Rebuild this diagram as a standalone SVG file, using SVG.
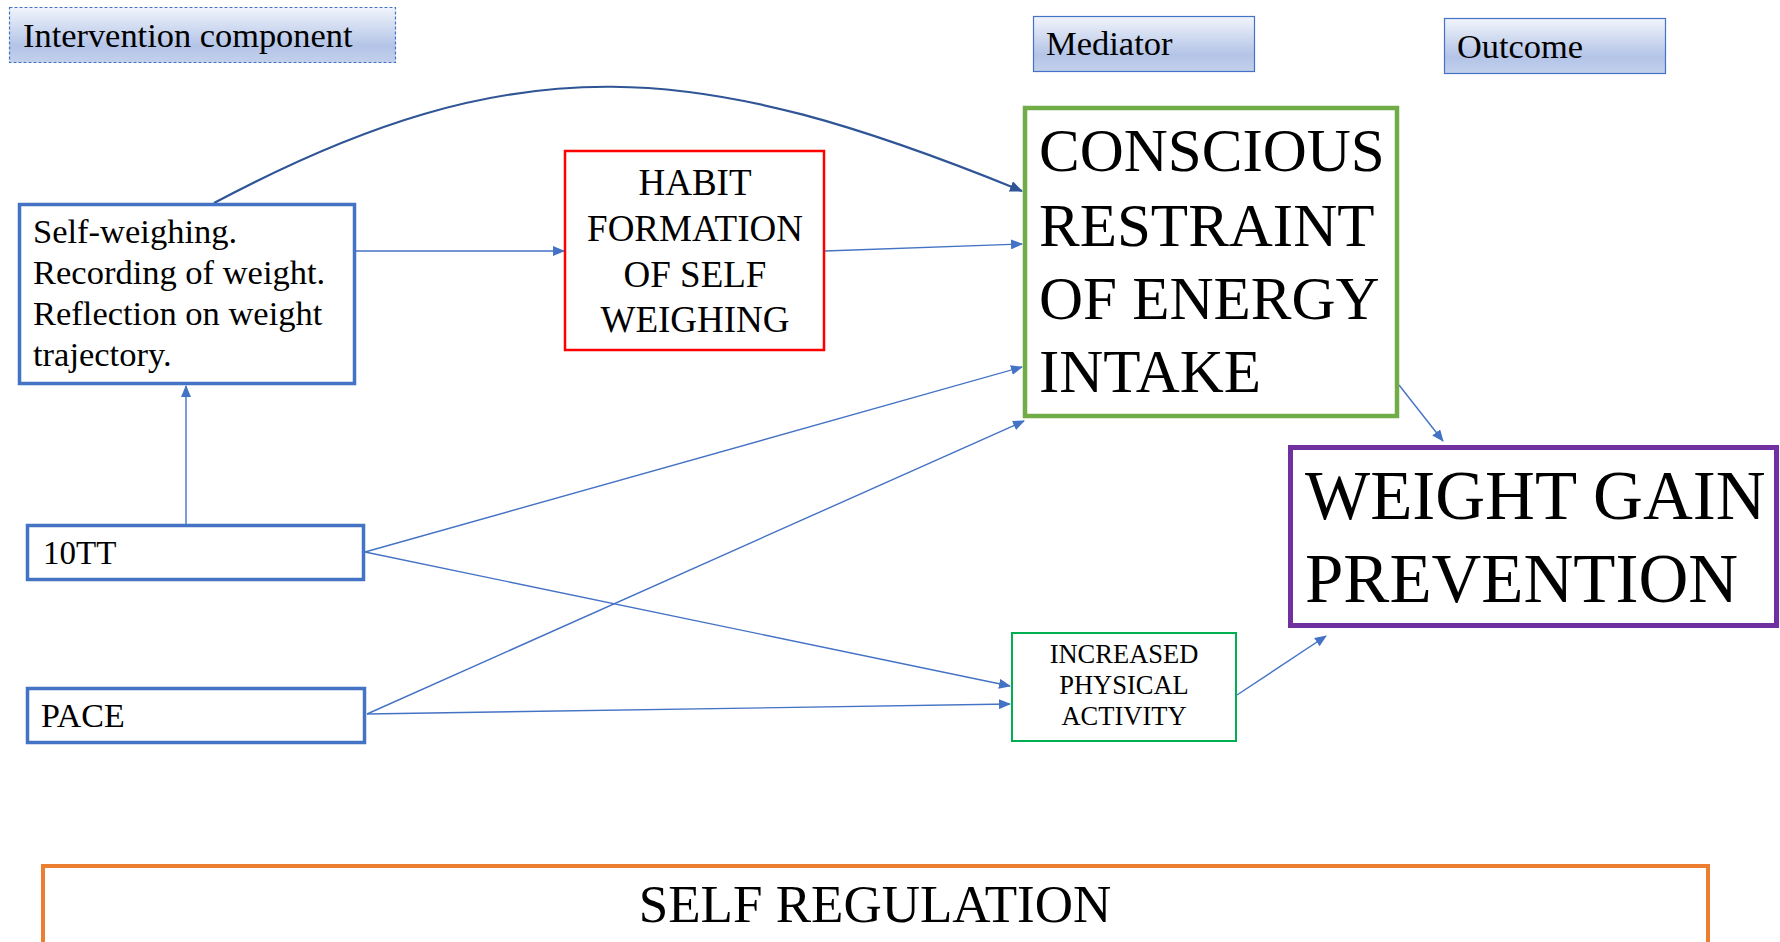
<svg xmlns="http://www.w3.org/2000/svg" width="1780" height="942" viewBox="0 0 1780 942">
<style>
text{font-family:"Liberation Serif","Times New Roman",serif;fill:#000}
.hdr{stroke:#4472C4;stroke-width:1.2;fill:url(#hg)}
.blue{fill:#fff;stroke:#4472C4;stroke-width:3.5}
.con{fill:none;stroke:#4472C4;stroke-width:1.4}
</style>
<defs>
<linearGradient id="hg" x1="0" y1="0" x2="0" y2="1">
<stop offset="0" stop-color="#F1F4FB"/>
<stop offset="0.7" stop-color="#B3C4E7"/>
<stop offset="1" stop-color="#C3D0EC"/>
</linearGradient>
<marker id="ah" markerUnits="userSpaceOnUse" markerWidth="12" markerHeight="10" refX="11" refY="5" orient="auto">
<path d="M0,0 L12,5 L0,10 z" fill="#4472C4"/>
</marker>
<marker id="ahd" markerUnits="userSpaceOnUse" markerWidth="13" markerHeight="11" refX="12" refY="5.5" orient="auto">
<path d="M0,0 L13,5.5 L0,11 z" fill="#2F5597"/>
</marker>
</defs>
<rect width="1780" height="942" fill="#fff"/>

<g id="hdr-intervention">
<rect class="hdr" x="9.5" y="7.5" width="386" height="55" stroke-dasharray="3,2"/>
<text x="23" y="47" font-size="34.4">Intervention component</text>
</g>
<g id="hdr-mediator">
<rect class="hdr" x="1033.5" y="16.5" width="221" height="55"/>
<text x="1046" y="55" font-size="34.5">Mediator</text>
</g>
<g id="hdr-outcome">
<rect class="hdr" x="1444.5" y="18.5" width="221" height="55"/>
<text x="1457" y="58" font-size="34.4">Outcome</text>
</g>

<g id="connectors">
<path d="M214,203 C520,40 700,60 1022,191" fill="none" stroke="#2F5597" stroke-width="2.2" marker-end="url(#ahd)"/>
<line class="con" x1="186" y1="524" x2="186" y2="386" marker-end="url(#ah)"/>
<line class="con" x1="355" y1="251" x2="564" y2="251" marker-end="url(#ah)"/>
<line class="con" x1="825" y1="251" x2="1022" y2="244" marker-end="url(#ah)"/>
<line class="con" x1="365" y1="552" x2="1022" y2="367" marker-end="url(#ah)"/>
<line class="con" x1="365" y1="552" x2="1010" y2="686" marker-end="url(#ah)"/>
<line class="con" x1="367" y1="714" x2="1024" y2="421" marker-end="url(#ah)"/>
<line class="con" x1="367" y1="714" x2="1010" y2="704" marker-end="url(#ah)"/>
<line class="con" x1="1399" y1="385" x2="1443" y2="441" marker-end="url(#ah)"/>
<line class="con" x1="1237" y1="695" x2="1326" y2="636" marker-end="url(#ah)"/>
</g>

<g id="node-selfweighing">
<rect class="blue" x="19.5" y="204.5" width="335" height="179"/>
<text x="33" y="243" font-size="34.5">Self-weighing.</text>
<text x="33" y="284" font-size="34.5">Recording of weight.</text>
<text x="33" y="325" font-size="34.5">Reflection on weight</text>
<text x="33" y="366" font-size="34.5">trajectory.</text>
</g>

<g id="node-10tt">
<rect class="blue" x="27.5" y="525.5" width="336" height="54"/>
<text x="43" y="564" font-size="33">10TT</text>
</g>

<g id="node-pace">
<rect class="blue" x="27.5" y="688.5" width="337" height="54"/>
<text x="41" y="727" font-size="34">PACE</text>
</g>

<g id="node-habit">
<rect x="565" y="151" width="259" height="199" fill="#fff" stroke="#FF0000" stroke-width="2.5"/>
<text x="695" y="195" font-size="37" text-anchor="middle">HABIT</text>
<text x="695" y="241" font-size="37" text-anchor="middle">FORMATION</text>
<text x="695" y="287" font-size="37" text-anchor="middle">OF SELF</text>
<text x="695" y="332" font-size="37" text-anchor="middle">WEIGHING</text>
</g>

<g id="node-conscious">
<rect x="1025" y="108" width="372" height="308" fill="#fff" stroke="#70AD47" stroke-width="4.5"/>
<text x="1039" y="171" font-size="61">CONSCIOUS</text>
<text x="1039" y="246" font-size="61">RESTRAINT</text>
<text x="1039" y="319" font-size="61">OF ENERGY</text>
<text x="1039" y="392" font-size="61">INTAKE</text>
</g>

<g id="node-activity">
<rect x="1012" y="633" width="224" height="108" fill="#fff" stroke="#00B050" stroke-width="2"/>
<text x="1124" y="663" font-size="26.5" text-anchor="middle">INCREASED</text>
<text x="1124" y="694" font-size="26.5" text-anchor="middle">PHYSICAL</text>
<text x="1124" y="725" font-size="26.5" text-anchor="middle">ACTIVITY</text>
</g>

<g id="node-weightgain">
<rect x="1290.5" y="447.5" width="486" height="178" fill="#fff" stroke="#7030A0" stroke-width="5"/>
<text x="1305" y="519" font-size="69">WEIGHT GAIN</text>
<text x="1305" y="602" font-size="69">PREVENTION</text>
</g>

<g id="node-selfregulation">
<rect x="43" y="866" width="1665" height="100" fill="#fff" stroke="#ED7D31" stroke-width="4"/>
<text x="875" y="922" font-size="53" text-anchor="middle">SELF REGULATION</text>
</g>
</svg>
